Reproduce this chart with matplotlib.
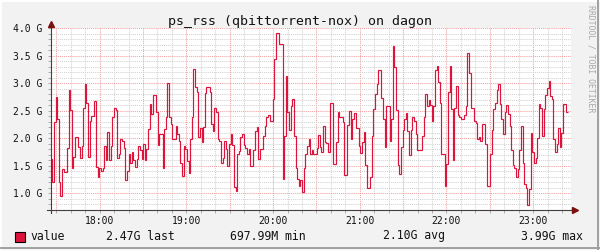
import matplotlib
matplotlib.use("Agg")
import matplotlib.pyplot as plt
import numpy as np
from matplotlib.lines import Line2D
from matplotlib.patches import Rectangle

# Data (GB, one step each)
title = "ps_rss (qbittorrent-nox) on dagon"
start_hour = 17.435
end_hour = 23.401
rss_gb = [
    # 17:26 - 18:25
    1.62, 1.2, 2.29, 2.76, 2.35, 1.2, 0.96, 1.44, 1.38, 1.38, 1.82, 2.87, 2.52, 1.47, 1.67,
    2.02, 2.02, 1.85, 1.65, 1.87, 2.56, 2.99, 2.65, 1.66, 2.31, 2.41, 2.41, 2.67, 1.48, 1.29,
    1.47, 1.40, 1.47, 1.86, 1.60, 2.11, 1.6, 1.86, 2.38, 2.56, 2.52, 1.65, 1.71, 1.98, 1.95,
    1.82, 1.25, 1.41, 1.71, 1.55, 1.75, 1.6, 1.48,
    # 18:25 - 19:25
    1.62, 1.87, 1.78, 1.62, 1.90, 1.61, 1.81, 2.17, 2.62, 2.44, 2.79, 2.79, 2.47, 1.88, 2.08,
    2.08, 1.47, 2.17, 2.38, 3.01, 2.38, 2.26, 1.99, 1.99, 2.23, 2.08, 1.96, 1.56, 1.31, 1.87,
    1.81, 1.59, 1.37, 1.99, 2.38, 3.26, 2.93, 2.84, 2.02, 2.18, 1.93, 2.2, 2.82, 2.93, 2.93,
    2.84, 2.26, 2.14, 2.56, 2.47, 1.99, 1.96, 1.55, 1.65,
    # 19:25 - 20:25
    1.96, 1.81, 1.50, 1.90, 2.08, 1.88, 1.11, 1.05, 1.71, 1.77, 2.02, 2.08, 1.88, 1.82, 1.71,
    1.81, 1.49, 1.49, 1.78, 2.14, 2.20, 1.62, 1.80, 1.80, 2.05, 2.23, 2.38, 2.43, 2.31, 2.31,
    2.71, 3.44, 3.92, 3.92, 3.71, 3.71, 1.27, 2.05, 3.13, 2.47, 2.16, 2.59, 2.71, 2.05, 1.47,
    1.27, 1.13, 1.25, 1.02, 1.47, 1.71, 1.87, 1.98, 1.71, 1.78, 1.71,
    # 20:25 - 21:25
    1.72, 1.82, 2.06, 1.84, 1.75, 2.22, 1.94, 1.92, 1.76, 2.65, 2.65, 1.54, 1.54, 1.93, 2.47,
    2.38, 2.38, 2.29, 1.33, 1.33, 2.25, 2.50, 1.99, 2.35, 2.46, 2.18, 2.18, 1.87, 1.74, 1.93,
    2.11, 1.52, 1.10, 1.10, 1.29, 2.05, 2.53, 2.81, 2.99, 3.25, 3.25, 2.74, 2.36, 1.84, 2.59,
    2.59, 1.96, 2.35, 3.67, 3.29, 2.52, 1.52, 1.35, 1.84,
    # 21:25 - 22:25
    2.16, 2.36, 2.46, 2.14, 1.69, 2.16, 2.38, 2.31, 2.08, 1.78, 1.78, 1.78, 2.04, 2.38, 2.81,
    2.58, 2.70, 2.60, 2.32, 2.58, 3.24, 3.32, 3.03, 2.65, 1.72, 1.72, 1.13, 1.53, 2.84, 3.31,
    2.53, 1.61, 2.56, 2.96, 2.43, 2.38, 2.36, 2.36, 2.42, 2.59, 3.55, 3.19, 2.56, 2.56, 2.31,
    2.28, 1.98, 2.02, 1.95, 2.26, 2.26, 1.90, 1.14, 1.14,
    # 22:25 - 23:24
    1.71, 2.16, 2.54, 2.64, 2.87, 2.99, 2.62, 2.35, 2.08, 2.47, 2.60, 2.44, 2.23, 1.78, 1.52,
    1.47, 1.29, 1.44, 1.78, 2.22, 1.55, 1.17, 1.09, 0.79, 1.08, 2.10, 1.76, 1.55, 1.64, 2.00,
    2.62, 2.56, 2.05, 2.53, 2.78, 2.91, 3.05, 2.77, 2.71, 1.99, 1.76, 1.90, 2.18, 1.84, 2.10,
    2.62, 2.62, 2.47,
]
hour_ticks = [18, 19, 20, 21, 22, 23]
hour_labels = ["18:00", "19:00", "20:00", "21:00", "22:00", "23:00"]
y_ticks = [1.0, 1.5, 2.0, 2.5, 3.0, 3.5, 4.0]
y_labels = ["1.0 G", "1.5 G", "2.0 G", "2.5 G", "3.0 G", "3.5 G", "4.0 G"]
legend_name = "value"
legend_stats = ["2.47G last", "697.99M min", "2.10G avg", "3.99G max"]
x_min, x_max = 17.435, 23.436
y_min, y_max = 0.698, 4.0

LINE = "#DC143C"
GRID = "#D2D2D2"
MGRID = "#F2A0A0"
AXIS = "#404040"
ARROW = "#7A1010"

plt.rcParams["font.family"] = ["DejaVu Sans Mono"]

W, H = 600, 250
L, R, T, B = 50.7, 571, 28.3, 210
fig = plt.figure(figsize=(W / 100, H / 100), dpi=100, facecolor="#F2F2F2")
ax = fig.add_axes([L / W, 1 - B / H, (R - L) / W, (B - T) / H])
ax.set_facecolor("white")
ax.set_xlim(x_min, x_max)
ax.set_ylim(y_min, y_max)

# grid: grey every 10 min / 0.1 G, red every 30 min / 0.5 G
for m in range(17 * 60, 24 * 60, 10):
    h = m / 60
    if x_min < h < x_max:
        c = MGRID if m % 30 == 0 else GRID
        ax.axvline(h, color=c, lw=0.75, ls=(0, (1, 1)), zorder=1)
for k in range(7, 41):
    c = MGRID if k % 5 == 0 else GRID
    ax.axhline(k / 10, color=c, lw=0.75, ls=(0, (1, 1)), zorder=1)

# data
edges = np.linspace(start_hour, end_hour, len(rss_gb) + 1)
ax.stairs(rss_gb, edges, baseline=None, color=LINE, lw=0.85, zorder=3)

# ticks
for s in ax.spines.values():
    s.set_visible(False)
ax.set_xticks(hour_ticks)
ax.set_xticklabels(hour_labels)
ax.set_yticks(y_ticks)
ax.set_yticklabels(y_labels)
ax.set_xticks([m / 60 for m in range(17 * 60 + 30, 23 * 60 + 30, 10)], minor=True)
ax.set_yticks([k / 10 for k in range(7, 41)], minor=True)
ax.tick_params(which="both", direction="out", length=2, width=0.6, color="#A0A0A0",
               labelsize=7.0, labelcolor="#111111")
ax.tick_params(axis="x", pad=2.5)
ax.tick_params(axis="y", pad=4.0)

# axis lines with arrows
aw, ah = R - L, B - T
ax.add_line(Line2D([0, 0], [-3 / ah, 1 + 3 / ah], transform=ax.transAxes, color=AXIS,
                   lw=0.8, clip_on=False, zorder=4))
ax.add_line(Line2D([-4 / aw, 1 + 1 / aw], [0, 0], transform=ax.transAxes, color=AXIS,
                   lw=0.8, clip_on=False, zorder=4))
ax.plot([0], [1 + 4.5 / ah], marker="^", ms=4.5, color=ARROW, transform=ax.transAxes,
        clip_on=False, zorder=5)
ax.plot([1 + 3.5 / aw], [0], marker=">", ms=4.5, color=ARROW, transform=ax.transAxes,
        clip_on=False, zorder=5)

# title
fig.text(0.5, 1 - 25 / H, title, ha="center", va="baseline", fontsize=9.5, color="#111111")

# watermark
fig.text(591 / W, 1 - 5 / H, "RRDTOOL / TOBI OETIKER", rotation=-90, ha="center", va="top",
         fontsize=5.9, color="#A8A8A8")

# legend
fig.add_artist(Rectangle((15 / W, 1 - 241.5 / H), 10 / W, 10 / H, transform=fig.transFigure,
                         facecolor=LINE, edgecolor="black", lw=0.8))
ly = 1 - 236 / H
fig.text(30 / W, ly, legend_name, ha="left", va="center", fontsize=8.3, color="#111111")
for xpos, s in zip([106, 230, 382.7, 520.7], legend_stats):
    fig.text(xpos / W, ly, s, ha="left", va="center", fontsize=8.3, color="#111111")

# frame (light top/left, darker bottom/right)
fig.add_artist(Line2D([0, 598.5 / W], [1 - 1 / H] * 2, transform=fig.transFigure, color="#FFFFFF", lw=1.4))
fig.add_artist(Line2D([1 / W] * 2, [1 - 248.5 / H, 1], transform=fig.transFigure, color="#FFFFFF", lw=1.4))
fig.add_artist(Line2D([1 / W, 598.7 / W], [1 - 247.7 / H] * 2, transform=fig.transFigure, color="#A0A0A0", lw=1.4))
fig.add_artist(Line2D([597.7 / W] * 2, [1 - 248.7 / H, 1 - 1 / H], transform=fig.transFigure, color="#A0A0A0", lw=1.4))

fig.savefig("out.png", dpi=100, facecolor=fig.get_facecolor())
